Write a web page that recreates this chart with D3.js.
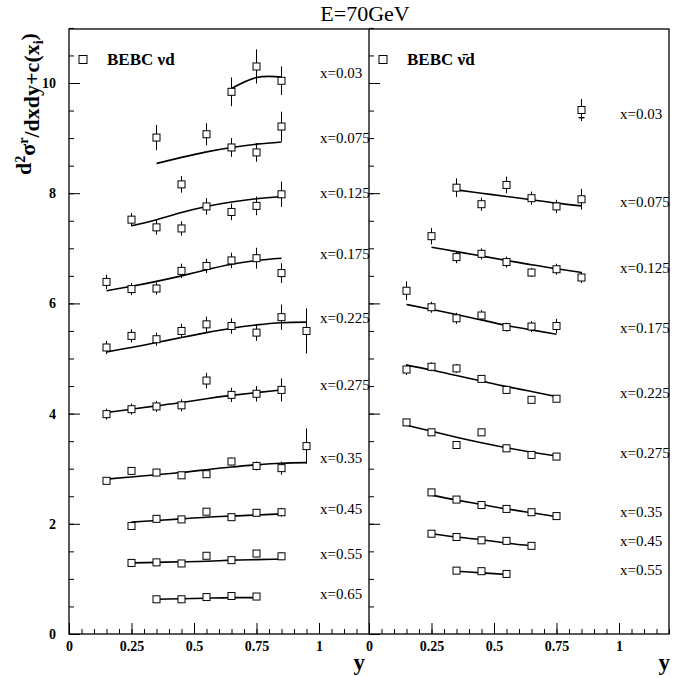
<!DOCTYPE html>
<html>
<head>
<meta charset="utf-8">
<script src="https://cdn.jsdelivr.net/npm/d3@7"></script>
<style>
  body { margin: 0; background: #fff; }
  svg { display: block; }
  text { font-family: "Liberation Serif", "Times New Roman", serif; fill: #000; }
</style>
</head>
<body>
<svg id="chart" width="673" height="677"></svg>
<script>
// ---------------- DATA ----------------
// Left panel: BEBC nu d
const nuLabels = ["x=0.03","x=0.075","x=0.125","x=0.175","x=0.225","x=0.275","x=0.35","x=0.45","x=0.55","x=0.65"];
const nuLabelPos = [10.19, 9.00, 8.00, 6.91, 5.74, 4.52, 3.19, 2.27, 1.45, 0.73];
const nuY = [
  [0.65,0.75,0.85],
  [0.35,0.45,0.55,0.65,0.75,0.85],
  [0.25,0.35,0.45,0.55,0.65,0.75,0.85],
  [0.15,0.25,0.35,0.45,0.55,0.65,0.75,0.85],
  [0.15,0.25,0.35,0.45,0.55,0.65,0.75,0.85,0.95],
  [0.15,0.25,0.35,0.45,0.55,0.65,0.75,0.85],
  [0.15,0.25,0.35,0.45,0.55,0.65,0.75,0.85,0.95],
  [0.25,0.35,0.45,0.55,0.65,0.75,0.85],
  [0.25,0.35,0.45,0.55,0.65,0.75,0.85],
  [0.35,0.45,0.55,0.65,0.75]
];
const nuVals = [
  [9.84,10.30,10.04],
  [9.01,8.16,9.07,8.83,8.74,9.21],
  [7.52,7.38,7.36,7.76,7.66,7.77,7.98],
  [6.39,6.26,6.27,6.59,6.68,6.78,6.82,6.55],
  [5.20,5.41,5.35,5.50,5.62,5.59,5.47,5.75,5.50],
  [3.99,4.08,4.13,4.15,4.60,4.34,4.36,4.43],
  [2.78,2.96,2.93,2.88,2.90,3.13,3.05,3.01,3.41],
  [1.96,2.09,2.08,2.22,2.12,2.20,2.21],
  [1.29,1.30,1.28,1.42,1.34,1.46,1.41],
  [0.63,0.63,0.67,0.69,0.68]
];
const nuErrs = [
  [0.26,0.31,0.26],
  [0.23,0.15,0.20,0.17,0.17,0.27],
  [0.12,0.13,0.13,0.15,0.15,0.17,0.23],
  [0.13,0.11,0.11,0.13,0.13,0.14,0.19,0.18],
  [0.12,0.12,0.12,0.13,0.14,0.14,0.15,0.23,0.41],
  [0.10,0.10,0.10,0.11,0.14,0.13,0.14,0.21],
  [0.04,0.05,0.05,0.05,0.06,0.07,0.08,0.12,0.32],
  [0.04,0.04,0.04,0.05,0.05,0.06,0.08],
  [0.03,0.03,0.03,0.04,0.04,0.05,0.07],
  [0.02,0.02,0.02,0.03,0.03]
];
const nuFit = [
  [9.90,10.10,10.11],
  [8.54,8.65,8.75,8.83,8.89,8.93],
  [7.41,7.52,7.65,7.76,7.84,7.90,7.94],
  [6.23,6.31,6.40,6.50,6.61,6.71,6.78,6.82],
  [5.12,5.20,5.29,5.38,5.47,5.55,5.61,5.65,5.66],
  [4.02,4.08,4.14,4.20,4.27,4.33,4.38,4.43],
  [2.81,2.85,2.89,2.93,2.98,3.03,3.07,3.10,3.11],
  [2.03,2.06,2.09,2.12,2.14,2.16,2.18],
  [1.29,1.30,1.31,1.32,1.34,1.35,1.36],
  [0.63,0.64,0.65,0.66,0.66]
];

// Right panel: BEBC nubar d
const nbLabels = ["x=0.03","x=0.075","x=0.125","x=0.175","x=0.225","x=0.275","x=0.35","x=0.45","x=0.55"];
const nbLabelPos = [9.44, 7.85, 6.64, 5.55, 4.38, 3.29, 2.22, 1.69, 1.17];
const nbY = [
  [0.85],
  [0.35,0.45,0.55,0.65,0.75,0.85],
  [0.25,0.35,0.45,0.55,0.65,0.75,0.85],
  [0.15,0.25,0.35,0.45,0.55,0.65,0.75],
  [0.15,0.25,0.35,0.45,0.55,0.65,0.75],
  [0.15,0.25,0.35,0.45,0.55,0.65,0.75],
  [0.25,0.35,0.45,0.55,0.65,0.75],
  [0.25,0.35,0.45,0.55,0.65],
  [0.35,0.45,0.55]
];
const nbVals = [
  [9.51],
  [8.10,7.80,8.15,7.91,7.76,7.89],
  [7.22,6.84,6.90,6.75,6.56,6.62,6.47],
  [6.23,5.93,5.73,5.78,5.57,5.58,5.59],
  [4.80,4.85,4.82,4.63,4.43,4.25,4.27],
  [3.84,3.66,3.43,3.66,3.37,3.25,3.22],
  [2.57,2.44,2.34,2.27,2.21,2.14],
  [1.82,1.76,1.70,1.69,1.60],
  [1.15,1.14,1.09]
];
const nbErrs = [
  [0.20],
  [0.17,0.12,0.15,0.12,0.12,0.19],
  [0.15,0.11,0.10,0.10,0.08,0.10,0.10],
  [0.17,0.10,0.10,0.10,0.08,0.10,0.13],
  [0.10,0.08,0.08,0.07,0.06,0.05,0.06],
  [0.06,0.05,0.05,0.05,0.04,0.04,0.04],
  [0.04,0.04,0.03,0.03,0.03,0.03],
  [0.03,0.03,0.03,0.03,0.03],
  [0.02,0.02,0.02]
];
const nbFit = [
  [9.37],
  [8.06,8.00,7.94,7.88,7.82,7.77],
  [7.02,6.94,6.86,6.78,6.70,6.63,6.56],
  [5.98,5.89,5.80,5.70,5.60,5.52,5.44],
  [4.88,4.79,4.69,4.59,4.49,4.40,4.31],
  [3.79,3.68,3.57,3.47,3.38,3.30,3.23],
  [2.52,2.43,2.35,2.27,2.20,2.13],
  [1.82,1.76,1.71,1.65,1.60],
  [1.14,1.11,1.08]
];

const xMajorTicks = [0, 0.25, 0.5, 0.75, 1];
const yMajorTicks = [0, 2, 4, 6, 8, 10];
const title = "E=70GeV";
const legendNu = "BEBC \u03BDd";
const legendNb = "BEBC \u03BD\u0304d";

// ---------------- LAYOUT ----------------
const svg = d3.select("#chart");
const frameTop = 29, frameBottom = 634;
const panels = [
  {x0: 69, x1: 369, labels: nuLabels, labelPos: nuLabelPos, Y: nuY, V: nuVals, E: nuErrs, F: nuFit, legend: legendNu, yLabels: true, yTitleEnd: 365},
  {x0: 369, x1: 669, labels: nbLabels, labelPos: nbLabelPos, Y: nbY, V: nbVals, E: nbErrs, F: nbFit, legend: legendNb, yLabels: false, yTitleEnd: 670}
];
const yScale = d3.scaleLinear().domain([0, 11]).range([frameBottom, frameBottom - 11 * 55.1]);
const minorX = d3.range(0, 1.2001, 0.05);
const minorY = d3.range(0, 11.001, 0.5);

panels.forEach(p => {
  const xs = d3.scaleLinear().domain([0, 1.2]).range([p.x0, p.x1]);
  const g = svg.append("g");

  const axMinor = d3.axisBottom(xs).tickValues(minorX).tickSizeInner(-5).tickSizeOuter(0).tickFormat("");
  g.append("g").attr("transform", `translate(0,${frameBottom})`).call(axMinor)
    .call(s => s.select(".domain").remove());
  const axMajor = d3.axisBottom(xs).tickValues(xMajorTicks).tickSizeInner(-11).tickSizeOuter(0)
    .tickPadding(7).tickFormat(d => d3.format("")(d));
  g.append("g").attr("transform", `translate(0,${frameBottom})`).call(axMajor)
    .call(s => s.select(".domain").remove())
    .call(s => s.selectAll("text").style("font-family", "'Liberation Serif', serif").style("font-weight", "bold").style("font-size", "14px"));

  const ayMinor = d3.axisLeft(yScale).tickValues(minorY).tickSizeInner(-5).tickSizeOuter(0).tickFormat("");
  g.append("g").attr("transform", `translate(${p.x0},0)`).call(ayMinor)
    .call(s => s.select(".domain").remove());
  const ayMajor = d3.axisLeft(yScale).tickValues(yMajorTicks).tickSizeInner(-11).tickSizeOuter(0)
    .tickPadding(13).tickFormat(p.yLabels ? d3.format("") : "");
  g.append("g").attr("transform", `translate(${p.x0},0)`).call(ayMajor)
    .call(s => s.select(".domain").remove())
    .call(s => s.selectAll("text").style("font-family", "'Liberation Serif', serif").style("font-weight", "bold").style("font-size", "14px"));
  g.selectAll(".tick line").attr("stroke", "#000").attr("stroke-width", 1);

  const line = d3.line().x(d => xs(d[0])).y(d => yScale(d[1])).curve(d3.curveNatural);
  p.Y.forEach((ys, i) => {
    const fitPts = ys.map((y, j) => [y, p.F[i][j]]).filter(d => d[1] != null);
    if (fitPts.length > 1) {
      g.append("path").attr("d", line(fitPts)).attr("fill", "none").attr("stroke", "#000").attr("stroke-width", 1.6);
    } else if (fitPts.length === 1) {
      g.append("line")
        .attr("x1", xs(fitPts[0][0]) - 3).attr("x2", xs(fitPts[0][0]) + 3)
        .attr("y1", yScale(fitPts[0][1])).attr("y2", yScale(fitPts[0][1]))
        .attr("stroke", "#000").attr("stroke-width", 1.4);
    }
    ys.forEach((y, j) => {
      const v = p.V[i][j], e = p.E[i][j];
      g.append("line")
        .attr("x1", xs(y)).attr("x2", xs(y))
        .attr("y1", yScale(v - e)).attr("y2", yScale(v + e))
        .attr("stroke", "#000").attr("stroke-width", 1);
      g.append("rect")
        .attr("x", xs(y) - 3.5).attr("y", yScale(v) - 3.5)
        .attr("width", 7).attr("height", 7)
        .attr("fill", "#fff").attr("stroke", "#000").attr("stroke-width", 1);
    });
    g.append("text")
      .attr("x", p.x0 + 251).attr("y", yScale(p.labelPos[i]))
      .attr("dy", "0.35em")
      .style("font-size", "15px")
      .text(p.labels[i]);
  });

  g.append("rect").attr("x", p.x0 + 10).attr("y", 55.5).attr("width", 8).attr("height", 8)
    .attr("fill", "#fff").attr("stroke", "#000").attr("stroke-width", 1);
  g.append("text").attr("x", p.x0 + 38).attr("y", 65)
    .style("font-weight", "bold").style("font-size", "17px").text(p.legend);

  g.append("text").attr("x", p.yTitleEnd).attr("y", 670).attr("text-anchor", "end")
    .style("font-weight", "bold").style("font-size", "23px").text("y");
});

svg.append("rect").attr("x", 69).attr("y", frameTop).attr("width", 600).attr("height", frameBottom - frameTop)
  .attr("fill", "none").attr("stroke", "#000").attr("stroke-width", 1.3);
svg.append("line").attr("x1", 369).attr("x2", 369).attr("y1", frameTop).attr("y2", frameBottom)
  .attr("stroke", "#000").attr("stroke-width", 1.3);

svg.append("text").attr("x", 365).attr("y", 21).attr("text-anchor", "middle")
  .style("font-size", "22px").text(title);

const yt = svg.append("text")
  .attr("transform", "translate(31,104) rotate(-90)")
  .attr("text-anchor", "middle")
  .style("font-weight", "bold").style("font-size", "22px");
yt.append("tspan").text("d");
yt.append("tspan").attr("dy", "-0.45em").style("font-size", "14px").text("2");
yt.append("tspan").attr("dy", "0.45em").text("\u03C3");
yt.append("tspan").attr("dy", "-0.5em").style("font-size", "14px").text("r");
yt.append("tspan").attr("dy", "0.5em").text("/dxdy+c(x");
yt.append("tspan").attr("dy", "0.3em").style("font-size", "14px").text("i");
yt.append("tspan").attr("dy", "-0.3em").text(")");
</script>
</body>
</html>
